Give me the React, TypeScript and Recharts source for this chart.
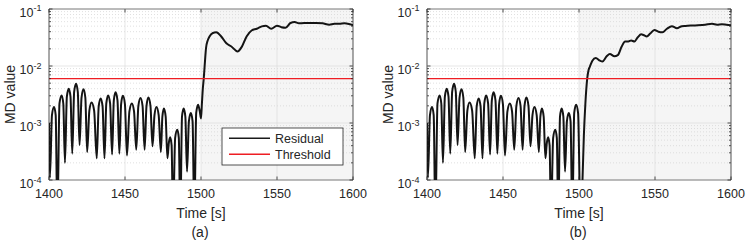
import React from 'react';
import { LineChart, Line, XAxis, YAxis, ReferenceLine, ReferenceArea } from 'recharts';

// residual before the fault (identical in both panels)
const preTime = [
  1400.0, 1400.6, 1401.95, 1403.3, 1404.4, 1405.5, 1406.9, 1408.3, 1409.4, 1410.5,
  1411.75, 1413.0, 1414.15, 1415.3, 1416.55, 1417.8, 1418.95, 1420.1, 1421.4, 1422.7,
  1423.9, 1425.1, 1426.55, 1428.0, 1429.7, 1431.4, 1432.7, 1434.0, 1435.25, 1436.5,
  1437.7, 1438.9, 1440.2, 1441.5, 1442.65, 1443.8, 1445.05, 1446.3, 1447.45, 1448.6,
  1449.95, 1451.3, 1452.9, 1454.5, 1455.95, 1457.4, 1458.8, 1460.2, 1461.55, 1462.9,
  1464.15, 1465.4, 1466.75, 1468.1, 1469.4, 1470.7, 1472.15, 1473.6, 1474.6, 1475.6,
  1476.75, 1477.9, 1478.8, 1479.7, 1480.65, 1481.6, 1483.0, 1484.4, 1485.4, 1486.4,
  1487.5, 1488.6, 1489.7, 1490.8, 1492.05, 1493.3, 1494.45, 1495.6, 1496.85, 1498.1,
];
const preMd = [
  1.0e-3, 1.1e-4, 1.37e-3, 1.9e-3, 1.37e-3, 2e-5, 2.2e-3, 3.05e-3, 2.2e-3, 2.0e-4,
  2.9e-3, 4.0e-3, 2.9e-3, 2.9e-4, 3.5e-3, 4.9e-3, 3.5e-3, 4.1e-4, 2.8e-3, 3.9e-3,
  2.8e-3, 3.1e-4, 1.65e-3, 2.3e-3, 1.65e-3, 2.4e-4, 1.95e-3, 2.7e-3, 1.95e-3, 2.4e-4,
  2.2e-3, 3.05e-3, 2.2e-3, 2.8e-4, 2.5e-3, 3.45e-3, 2.5e-3, 2.9e-4, 2.15e-3, 3.0e-3,
  2.15e-3, 2.7e-4, 1.6e-3, 2.2e-3, 1.6e-3, 3.4e-4, 2.0e-3, 2.75e-3, 2.0e-3, 3.4e-4,
  2.0e-3, 2.8e-3, 2.0e-3, 3.9e-4, 1.37e-3, 1.9e-3, 1.37e-3, 3.1e-4, 1.3e-3, 1.8e-3,
  1.3e-3, 2.4e-4, 4.4e-4, 5.6e-4, 4.1e-4, 2e-5, 5.5e-4, 7.6e-4, 5.5e-4, 2e-5,
  1.3e-3, 1.8e-3, 1.3e-3, 1.4e-4, 1.08e-3, 1.5e-3, 1.08e-3, 2e-5, 1.5e-3, 2.1e-3,
];

// (a) after the fault
const postTimeA = [
  1499.2, 1500.0, 1500.6, 1501.2, 1501.8, 1502.4, 1503.3, 1504.4, 1505.6, 1507.8,
  1510.0, 1513.3, 1516.7, 1520.0, 1524.0, 1526.7, 1530.0, 1533.3, 1536.7, 1540.0,
  1542.7, 1546.2, 1550.0, 1552.9, 1555.6, 1558.9, 1561.6, 1564.4, 1567.8, 1571.1,
  1575.6, 1580.0, 1584.4, 1587.8, 1591.0, 1594.4, 1597.8, 1600.0,
];
const postMdA = [
  1.6e-3, 1.2e-3, 2.2e-3, 4.0e-3, 6.0e-3, 0.010, 0.0206, 0.028, 0.033, 0.038,
  0.039, 0.033, 0.025, 0.022, 0.018, 0.0214, 0.033, 0.042, 0.045, 0.0496,
  0.051, 0.045, 0.051, 0.048, 0.047, 0.0568, 0.059, 0.056, 0.057, 0.057,
  0.057, 0.056, 0.053, 0.055, 0.055, 0.056, 0.054, 0.052,
];

// (b) after the fault
const postTimeB = [
  1499.4, 1501.0, 1502.3, 1503.2, 1504.2, 1505.4, 1506.3, 1507.2, 1508.8, 1511.0,
  1513.8, 1515.4, 1518.2, 1520.3, 1523.3, 1525.5, 1528.1, 1530.3, 1532.5, 1534.3,
  1536.5, 1538.7, 1540.9, 1542.4, 1544.6, 1546.8, 1549.6, 1552.3, 1554.9, 1557.8,
  1561.1, 1564.4, 1567.7, 1570.0, 1576.5, 1583.0, 1587.5, 1590.8, 1594.0, 1597.0,
  1600.0,
];
const postMdB = [
  1.5e-3, 2e-5, 1e-4, 6e-4, 2.2e-3, 6.0e-3, 8.5e-3, 9.8e-3, 0.0124, 0.0138,
  0.0124, 0.012, 0.0148, 0.0162, 0.0148, 0.0155, 0.022, 0.027, 0.027, 0.028,
  0.027, 0.032, 0.036, 0.035, 0.033, 0.037, 0.043, 0.040, 0.039, 0.045,
  0.050, 0.046, 0.050, 0.0505, 0.0516, 0.053, 0.055, 0.053, 0.054, 0.053,
  0.052,
];

const threshold = 0.006;
const faultStart = 1500;
const xDomain = [1400, 1600];
const xTicks = [1400, 1450, 1500, 1550, 1600];
const xGrid = [1450, 1500, 1550];
const yDomain = [1e-4, 1e-1];
const yMajorTicks = [1e-4, 1e-3, 1e-2, 1e-1];
const yMinorTicks = [
  2e-4, 3e-4, 4e-4, 5e-4, 6e-4, 7e-4, 8e-4, 9e-4,
  2e-3, 3e-3, 4e-3, 5e-3, 6e-3, 7e-3, 8e-3, 9e-3,
  2e-2, 3e-2, 4e-2, 5e-2, 6e-2, 7e-2, 8e-2, 9e-2,
];

const toRows = (t: number[], v: number[]) => t.map((time, i) => ({ time, md: v[i] }));
const dataA = [...toRows(preTime, preMd), ...toRows(postTimeA, postMdA)];
const dataB = [...toRows(preTime, preMd), ...toRows(postTimeB, postMdB)];

const FONT = '"Liberation Sans", Arial, Helvetica, sans-serif';
const INK = '#262626';
const CHART_W = 369;
const CHART_H = 241;
const MARGIN = { top: 9, right: 16, bottom: 0, left: 0 };
const Y_AXIS_W = 49;
const X_AXIS_H = 61;
const PLOT_W = CHART_W - MARGIN.left - MARGIN.right - Y_AXIS_W;
const PLOT_H = CHART_H - MARGIN.top - MARGIN.bottom - X_AXIS_H;

const XTick = (props: any) => {
  const { x, y, payload } = props;
  return (
    <g>
      <line x1={x} x2={x} y1={y} y2={y - 3.5} stroke={INK} strokeWidth={0.8} />
      <line x1={x} x2={x} y1={y - PLOT_H} y2={y - PLOT_H + 3.5} stroke={INK} strokeWidth={0.8} />
      <text x={x} y={y + 17.5} textAnchor="middle" fontSize={12.5} fill={INK} fontFamily={FONT}>
        {payload.value}
      </text>
    </g>
  );
};

const YTick = (props: any) => {
  const { x, y, payload } = props;
  const v = payload.value;
  const major = yMajorTicks.includes(v);
  const len = major ? 3.5 : 2;
  return (
    <g>
      <line x1={x} x2={x + len} y1={y} y2={y} stroke={INK} strokeWidth={0.8} />
      <line x1={x + PLOT_W} x2={x + PLOT_W - len} y1={y} y2={y} stroke={INK} strokeWidth={0.8} />
      {major && (
        <text x={x - 7.5} y={y + 8.3} textAnchor="end" fontSize={12.5} fill={INK} fontFamily={FONT}>
          10
          <tspan dy={-5.8} fontSize={9}>
            {Math.round(Math.log10(v))}
          </tspan>
        </text>
      )}
    </g>
  );
};

const LegendBox = () => (
  <svg width={123} height={39} style={{ position: 'absolute', left: 221, top: 127 }}>
    <rect x={1} y={1} width={121} height={37} fill="#fff" stroke={INK} strokeWidth={0.8} />
    <line x1={8} x2={49} y1={11.3} y2={11.3} stroke="#1a1a1a" strokeWidth={1.4} />
    <line x1={8} x2={49} y1={27.3} y2={27.3} stroke="#ee1d23" strokeWidth={1.4} />
    <text x={54} y={15.5} fontSize={12.5} fill={INK} fontFamily={FONT}>Residual</text>
    <text x={54} y={32} fontSize={12.5} fill={INK} fontFamily={FONT}>Threshold</text>
  </svg>
);

const Panel = ({ data, left, tag, legend }: { data: any[]; left: number; tag: string; legend?: boolean }) => {
  const plotLeft = MARGIN.left + Y_AXIS_W;
  const plotBottom = MARGIN.top + PLOT_H;
  return (
    <div style={{ position: 'absolute', left, top: 0, width: CHART_W, height: CHART_H }}>
      <LineChart width={CHART_W} height={CHART_H} data={data} margin={MARGIN}>
        <XAxis
          dataKey="time"
          type="number"
          domain={xDomain}
          ticks={xTicks}
          interval={0}
          allowDataOverflow
          height={X_AXIS_H}
          axisLine={false}
          tickLine={false}
          tickSize={0}
          tickMargin={0}
          tick={<XTick />}
        />
        <YAxis
          type="number"
          scale="log"
          domain={yDomain}
          ticks={[...yMajorTicks, ...yMinorTicks]}
          interval={0}
          allowDataOverflow
          width={Y_AXIS_W}
          axisLine={false}
          tickLine={false}
          tickSize={0}
          tickMargin={0}
          tick={<YTick />}
        />
        <ReferenceArea x1={faultStart} x2={xDomain[1]} fill="#f5f5f5" fillOpacity={1} stroke="none" />
        {yMinorTicks.map((v) => (
          <ReferenceLine key={`ym-${v}`} y={v} stroke="#d2d2d2" strokeWidth={0.7} strokeDasharray="1 2" />
        ))}
        {yMajorTicks.map((v) => (
          <ReferenceLine key={`yM-${v}`} y={v} stroke="#dcdcdc" strokeWidth={0.7} />
        ))}
        {xGrid.map((v) => (
          <ReferenceLine key={`x-${v}`} x={v} stroke="#dcdcdc" strokeWidth={0.7} />
        ))}
        <Line
          type="monotone"
          dataKey="md"
          stroke="#141414"
          strokeWidth={2}
          dot={false}
          isAnimationActive={false}
        />
        <ReferenceLine y={threshold} stroke="#ee1d23" strokeWidth={1.4} />
        <ReferenceArea
          x1={xDomain[0]}
          x2={xDomain[1]}
          y1={yDomain[0]}
          y2={yDomain[1]}
          fill="none"
          stroke={INK}
          strokeWidth={0.8}
        />
      </LineChart>
      <svg
        width={CHART_W}
        height={CHART_H}
        style={{ position: 'absolute', left: 0, top: 0, pointerEvents: 'none' }}
      >
        <text
          x={plotLeft + PLOT_W / 2}
          y={plotBottom + 38}
          textAnchor="middle"
          fontSize={14}
          fill={INK}
          fontFamily={FONT}
        >
          Time [s]
        </text>
        <text
          x={plotLeft + PLOT_W / 2 - 1}
          y={plotBottom + 57}
          textAnchor="middle"
          fontSize={14}
          fill={INK}
          fontFamily={FONT}
        >
          {tag}
        </text>
        <text
          transform={`translate(${plotLeft - 34}, ${MARGIN.top + PLOT_H / 2}) rotate(-90)`}
          textAnchor="middle"
          fontSize={14}
          fill={INK}
          fontFamily={FONT}
        >
          MD value
        </text>
      </svg>
      {legend && <LegendBox />}
    </div>
  );
}

export default function App() {
  return (
    <div style={{ position: 'absolute', left: 0, top: 0, width: 747, height: 241, background: '#fff' }}>
      <Panel data={dataA} left={0} tag="(a)" legend />
      <Panel data={dataB} left={378} tag="(b)" />
    </div>
  );
}
